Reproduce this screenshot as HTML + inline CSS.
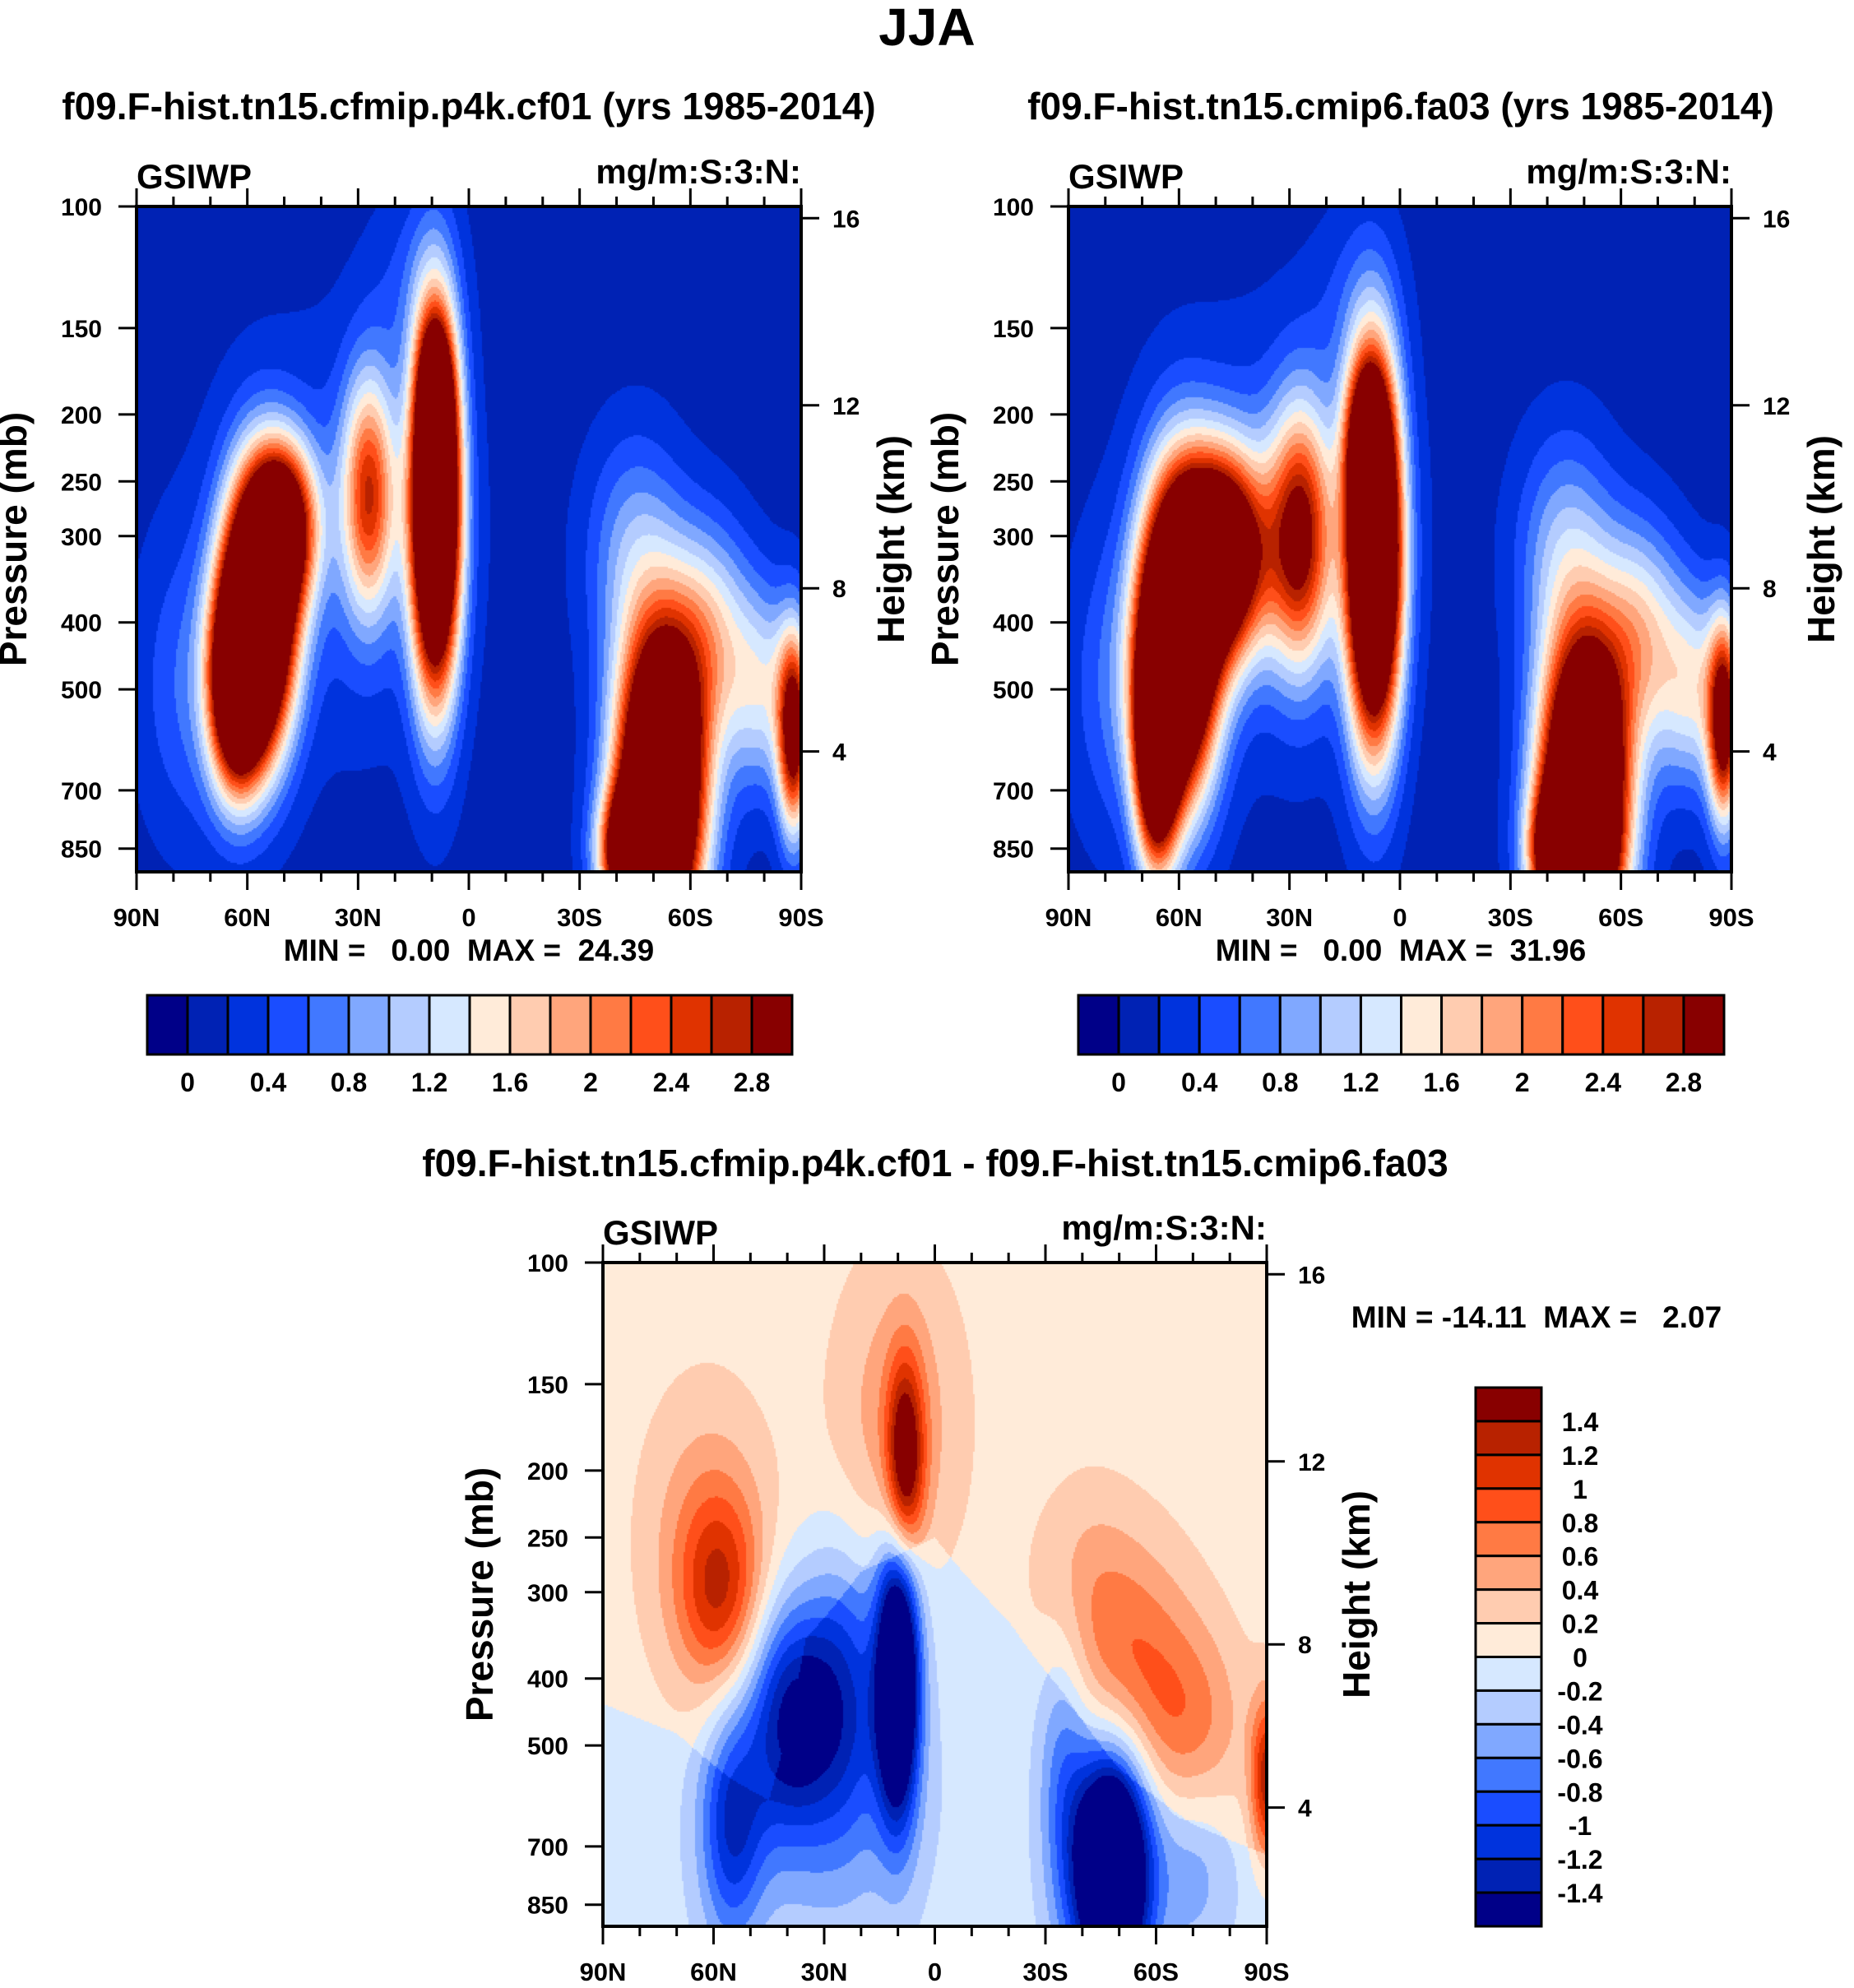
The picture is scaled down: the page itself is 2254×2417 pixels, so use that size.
<!DOCTYPE html>
<html><head><meta charset="utf-8">
<style>
html,body{margin:0;padding:0;background:#fff;}
#root{position:relative;width:2254px;height:2417px;overflow:hidden;font-family:"Liberation Sans",Arial,sans-serif;}
canvas{position:absolute;}
svg{position:absolute;left:0;top:0;}
text{font-family:"Liberation Sans",Arial,sans-serif;font-weight:bold;fill:#000;white-space:pre;}
</style></head>
<body>
<div id="root">
<canvas id="c1" style="left:166px;top:251px" width="808" height="809"></canvas>
<canvas id="c2" style="left:1299px;top:251px" width="806" height="809"></canvas>
<canvas id="c3" style="left:733px;top:1535px" width="807" height="807"></canvas>
<svg id="ov" width="2254" height="2417"></svg>
</div>
<script>
// ---- data ----
const colors = ["#000088","#0022b4","#0033dd","#1a4dff","#4178ff","#80a8ff","#b4ccff","#d6e8ff","#ffebd9","#ffccb0","#ffa57c","#ff7a44","#ff4f1a","#e03300","#b82200","#880000"];
const levelsAbs = [0,0.2,0.4,0.6,0.8,1.0,1.2,1.4,1.6,1.8,2.0,2.2,2.4,2.6,2.8];
const levelsDiff = [-1.4,-1.2,-1,-0.8,-0.6,-0.4,-0.2,0,0.2,0.4,0.6,0.8,1,1.2,1.4];
const absBarLabels = ["0","0.4","0.8","1.2","1.6","2","2.4","2.8"];
const diffBarLabels = ["1.4","1.2","1","0.8","0.6","0.4","0.2","0","-0.2","-0.4","-0.6","-0.8","-1","-1.2","-1.4"];
const pressureTicks = [100,150,200,250,300,400,500,700,850];
const heightTicks = [16,12,8,4];
const heightTickPressure = [104,194,357,615];
const latTicks = [90,60,30,0,-30,-60,-90];
const latTickLabels = ["90N","60N","30N","0","30S","60S","90S"];
// blobs: lat, pressure, amplitude, lat-width, logp-width
const cf01Lat = [57,50,63,27,9,9,15,35,-52,-46,-45,-65,-80,-88,75];
const cf01P   = [390,290,500,260,270,190,130,300,680,860,320,420,500,580,500];
const cf01Amp = [6,3,3.5,2.2,6,2,0.3,0.4,6,5,0.8,1.3,1.1,3,0.5];
const cf01SL  = [6.5,6,5,5,4.5,3,8,22,8,6,9,8,7,3,10];
const cf01SP  = [0.13,0.08,0.1,0.12,0.18,0.07,0.1,0.2,0.15,0.06,0.12,0.11,0.1,0.1,0.15];
const fa03Lat = [60,48,66,27,7,9,12,35,-50,-46,-45,-65,-80,-88,75];
const fa03P   = [420,320,600,300,320,220,140,300,700,860,320,420,500,560,500];
const fa03Amp = [6,4,4,2.6,6,2,0.3,0.45,6,5,0.9,1.4,1.2,3,0.55];
const fa03SL  = [7,8,4,6,5,4,8,22,8,6,9,8,7,3,10];
const fa03SP  = [0.15,0.1,0.12,0.13,0.18,0.08,0.1,0.2,0.15,0.06,0.12,0.11,0.1,0.1,0.15];
const diffLat = [58,62,8,10,-53,-70,-90,-40,10,40,55,25,-48,-35,-70,30];
const diffP   = [300,250,195,170,380,470,560,280,400,450,650,420,760,550,750,600];
const diffAmp = [0.9,0.4,1.5,0.45,0.65,0.5,1.2,0.25,-2.5,-1.3,-1.0,-0.9,-3,-0.6,-0.4,-0.3];
const diffSL  = [8,12,3.5,12,12,10,3,10,4,8,6,8,7,5,8,20];
const diffSP  = [0.1,0.15,0.1,0.16,0.12,0.1,0.08,0.1,0.14,0.12,0.12,0.15,0.12,0.15,0.1,0.15];
const diffBoundLat = [90,70,55,45,35,20,0,-20,-35,-50,-70,-90];
const diffBoundP   = [435,480,560,600,350,280,250,330,420,540,650,720];

// ---- helpers ----
const K = 840; // px per decade
function field(L,P,A,SL,SP,lat,p,base){
  let v=base, lp=Math.log10(p);
  for(let i=0;i<L.length;i++){
    const dx=(lat-L[i])/SL[i], dy=(lp-Math.log10(P[i]))/SP[i];
    v+=A[i]*Math.exp(-(dx*dx+dy*dy)/2);
  }
  return v;
}
function boundAt(lat){
  for(let i=0;i<diffBoundLat.length-1;i++){
    if(lat<=diffBoundLat[i]&&lat>=diffBoundLat[i+1]){
      const t=(diffBoundLat[i]-lat)/(diffBoundLat[i]-diffBoundLat[i+1]);
      return diffBoundP[i]+t*(diffBoundP[i+1]-diffBoundP[i]);
    }
  }
  return 500;
}
function colorIdx(v,levels){let k=0;while(k<levels.length&&v>=levels[k])k++;return k;}
function render(id,L,P,A,SL,SP,levels,diff){
  const c=document.getElementById(id),ctx=c.getContext('2d'),W=c.width,H=c.height,s=2;
  for(let x=0;x<W;x+=s){
    const lat=90-(x+1)/W*180;
    const bp=diff?boundAt(lat):0;
    for(let y=0;y<H;y+=s){
      const p=100*Math.pow(10,(y+1)/K);
      const base=diff?(p<bp?0.1:-0.1):0.1;
      ctx.fillStyle=colors[colorIdx(field(L,P,A,SL,SP,lat,p,base),levels)];
      ctx.fillRect(x,y,s,s);
    }
  }
}
render('c1',cf01Lat,cf01P,cf01Amp,cf01SL,cf01SP,levelsAbs,false);
render('c2',fa03Lat,fa03P,fa03Amp,fa03SL,fa03SP,levelsAbs,false);
render('c3',diffLat,diffP,diffAmp,diffSL,diffSP,levelsDiff,true);

// ---- overlay ----
const NS='http://www.w3.org/2000/svg', ov=document.getElementById('ov');
function el(tag,attrs,t){const e=document.createElementNS(NS,tag);for(const k in attrs)e.setAttribute(k,attrs[k]);if(t!==undefined)e.textContent=t;ov.appendChild(e);return e;}
function txt(x,y,s,size,anchor,name,rot){
  const e=el('text',{x:x,y:y,'font-size':size,'text-anchor':anchor||'start'},s);
  if(rot)e.setAttribute('transform','rotate(-90 '+x+' '+y+')');
  
  
  return e;
}
txt(1127,55,'JJA',64,'middle','figure-title');

function panel(L,T,W,H,prefix){
  const xs=lat=>L+(90-lat)/180*W, ys=p=>T+K*Math.log10(p/100);
  const g=el('rect',{x:L,y:T,width:W,height:H,fill:'none',stroke:'#000','stroke-width':4});
  
  
  for(let lat=90;lat>=-90;lat-=10){
    const major=lat%30===0, len=major?22:12, x=xs(lat);
    el('line',{x1:x,y1:T,x2:x,y2:T-len,stroke:'#000','stroke-width':3});
    el('line',{x1:x,y1:T+H,x2:x,y2:T+H+len,stroke:'#000','stroke-width':3});
  }
  latTicks.forEach((lat,i)=>{
    txt(xs(lat),T+H+66,latTickLabels[i],31,'middle',prefix+'-x-tick-label');
  });
  pressureTicks.forEach(p=>{
    const y=ys(p);
    el('line',{x1:L,y1:y,x2:L-22,y2:y,stroke:'#000','stroke-width':3});
    txt(L-42,y+11,String(p),30,'end',prefix+'-y-tick-label');
  });
  heightTickPressure.forEach((p,i)=>{
    const y=ys(p);
    el('line',{x1:L+W,y1:y,x2:L+W+22,y2:y,stroke:'#000','stroke-width':3});
    txt(L+W+38,y+11,String(heightTicks[i]),30,'start',prefix+'-right-tick-label');
  });
  txt(L,T-22,'GSIWP',42,'start',prefix+'-variable-label');
  txt(L+W,T-28,'mg/m:S:3:N:',42,'end',prefix+'-units-label');
  txt(L-134,T+H/2,'Pressure (mb)',46,'middle',prefix+'-y-axis-title',true);
  txt(L+W+125,T+H/2,'Height (km)',46,'middle',prefix+'-right-axis-title',true);
}
panel(166,251,808,809,'cf01');
panel(1299,251,806,809,'fa03');
panel(733,1535,807,807,'diff');

txt(570,145,'f09.F-hist.tn15.cfmip.p4k.cf01 (yrs 1985-2014)',46,'middle','cf01-title');
txt(1703,145,'f09.F-hist.tn15.cmip6.fa03 (yrs 1985-2014)',46,'middle','fa03-title');
txt(1137,1430,'f09.F-hist.tn15.cfmip.p4k.cf01 - f09.F-hist.tn15.cmip6.fa03',46,'middle','diff-title');
txt(570,1168,'MIN =   0.00  MAX =  24.39',37,'middle','cf01-min-max');
txt(1703,1168,'MIN =   0.00  MAX =  31.96',37,'middle','fa03-min-max');
txt(1868,1614,'MIN = -14.11  MAX =   2.07',37,'middle','diff-min-max');

function hbar(L,T,W,H,prefix){
  const bw=W/16;
  colors.forEach((c,i)=>{
    const r=el('rect',{x:L+i*bw,y:T,width:bw,height:H,fill:c,stroke:'#000','stroke-width':3});
    
    
  });
  absBarLabels.forEach((s,i)=>{
    txt(L+bw*(1+2*i),T+H+45,s,32,'middle',prefix+'-colorbar-label');
  });
}
hbar(179,1210,784,72,'cf01');
hbar(1311,1210,785,72,'fa03');
(function(){
  const L=1794,T=1687,W=80,H=655,bh=H/16;
  colors.slice().reverse().forEach((c,i)=>{
    const r=el('rect',{x:L,y:T+i*bh,width:W,height:bh,fill:c,stroke:'#000','stroke-width':3});
    
    
  });
  diffBarLabels.forEach((s,i)=>{
    txt(L+127,T+bh*(i+1)+12,s,32,'middle','diff-colorbar-label');
  });
})();
</script>
</body></html>
